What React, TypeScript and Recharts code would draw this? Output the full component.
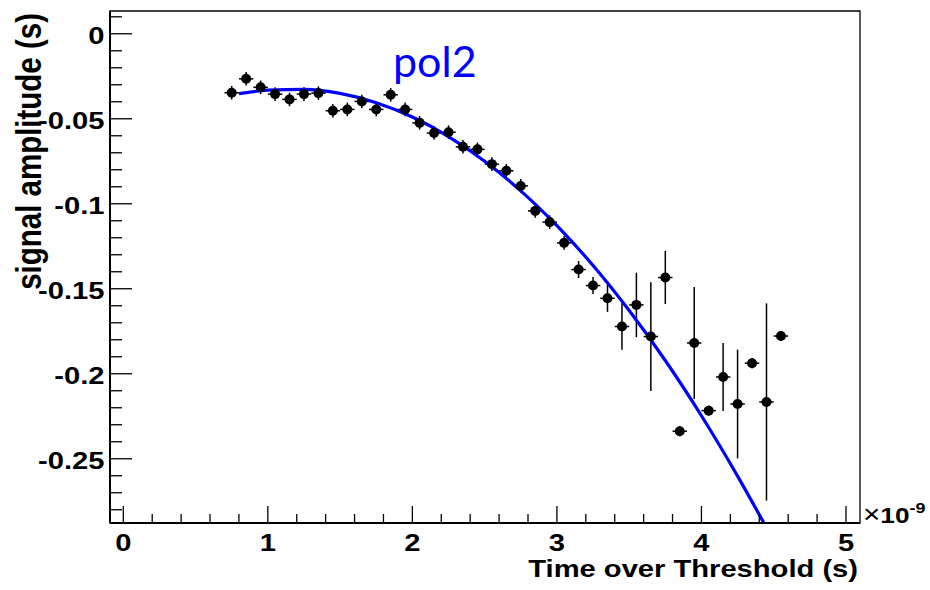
import * as React from 'react'
import { ComposedChart, Scatter, Line, XAxis, YAxis, ErrorBar, ReferenceArea, Label } from 'recharts'

// bin centres (units of 1e-9 s)
const xVals = [
  0.75, 0.85, 0.95, 1.05, 1.15, 1.25, 1.35, 1.45, 1.55, 1.65,
  1.75, 1.85, 1.95, 2.05, 2.15, 2.25, 2.35, 2.45, 2.55, 2.65,
  2.75, 2.85, 2.95, 3.05, 3.15, 3.25, 3.35, 3.45, 3.55, 3.65,
  3.75, 3.85, 3.95, 4.05, 4.15, 4.25, 4.35, 4.45, 4.55,
]

const yVals = [
  -0.0347, -0.0265, -0.0315, -0.0355, -0.0386, -0.0355, -0.0349, -0.0453, -0.0445, -0.0398,
  -0.0445, -0.0359, -0.0445, -0.0524, -0.0584, -0.0579, -0.0665, -0.068, -0.0767, -0.0806,
  -0.0895, -0.1042, -0.1108, -0.123, -0.1387, -0.1481, -0.1556, -0.1722, -0.1595, -0.1781,
  -0.1434, -0.2338, -0.1819, -0.2217, -0.2019, -0.2178, -0.1938, -0.2166, -0.1778,
]

const yErr = [
  0.004, 0.004, 0.004, 0.004, 0.004, 0.004, 0.004, 0.004, 0.004, 0.004,
  0.004, 0.004, 0.004, 0.004, 0.004, 0.004, 0.004, 0.004, 0.004, 0.004,
  0.004, 0.004, 0.004, 0.004, 0.005, 0.005, 0.008, 0.0137, 0.019, 0.032,
  0.0156, 0.003, 0.033, 0.003, 0.02, 0.032, 0.003, 0.058, 0.003,
]

const X_ERR = 0.05

// pol2 fit curve
const fitX = [0.8, 1.0, 1.25, 1.5, 1.75, 2.0, 2.25, 2.5, 2.75, 3.0, 3.25, 3.5, 3.75, 4.0, 4.25, 4.43]
const fitY = [
  -0.0352, -0.0332, -0.0327, -0.0351, -0.0406, -0.049, -0.0605, -0.075, -0.0924, -0.1129,
  -0.1363, -0.1628, -0.1922, -0.2247, -0.2602, -0.2875,
]

const xTicks = [0, 0.2, 0.4, 0.6, 0.8, 1, 1.2, 1.4, 1.6, 1.8, 2, 2.2, 2.4, 2.6, 2.8, 3, 3.2, 3.4, 3.6, 3.8, 4, 4.2, 4.4, 4.6, 4.8, 5]
const yTicks = [
  0.01, 0, -0.01, -0.02, -0.03, -0.04, -0.05, -0.06, -0.07, -0.08, -0.09, -0.1, -0.11, -0.12, -0.13,
  -0.14, -0.15, -0.16, -0.17, -0.18, -0.19, -0.2, -0.21, -0.22, -0.23, -0.24, -0.25, -0.26, -0.27, -0.28,
]

const X_DOMAIN = [-0.092, 5.097]
const Y_DOMAIN = [-0.2878, 0.0134]

const FONT = "'Liberation Sans', Arial, sans-serif"
const SX = 1.19 // the original picture is stretched sideways

const points = xVals.map((x, i) => ({ x, y: yVals[i], ey: yErr[i], ex: X_ERR }))
const fit = fitX.map((x, i) => ({ x, y: fitY[i] }))

const XTick = (props: any) => {
  const { x, y, payload } = props
  const v = payload.value
  const major = Math.abs(v - Math.round(v)) < 1e-6
  return (
    <g>
      <line x1={x} y1={y} x2={x} y2={y - (major ? 17 : 9)} stroke="#000" strokeWidth={1.3} />
      {major && (
        <text
          transform={`translate(${x},${y + 27.7}) scale(${SX},1)`}
          textAnchor="middle"
          fontFamily={FONT}
          fontWeight="bold"
          fontSize={24.5}
          fill="#000"
        >
          {String(v)}
        </text>
      )}
    </g>
  )
}

const YTick = (props: any) => {
  const { x, y, payload } = props
  const v = payload.value
  const major = Math.abs(Math.round(v * 100)) % 5 === 0
  return (
    <g>
      <line x1={x} y1={y} x2={x + (major ? 22 : 12)} y2={y} stroke="#000" strokeWidth={1.3} />
      {major && (
        <text
          transform={`translate(${x - 5.5},${y + 10.4}) scale(${SX},1)`}
          textAnchor="end"
          fontFamily={FONT}
          fontWeight="bold"
          fontSize={24.5}
          fill="#000"
        >
          {String(v)}
        </text>
      )}
    </g>
  )
}

const XTitle = (props: any) => {
  const vb = props.viewBox
  const right = vb.x + vb.width
  return (
    <g>
      <text
        transform={`translate(${right - 2},${vb.y + 54}) scale(${SX},1)`}
        textAnchor="end"
        fontFamily={FONT}
        fontWeight="bold"
        fontSize={24.5}
        fill="#000"
      >
        Time over Threshold (s)
      </text>
      <text transform={`translate(${right + 3},${vb.y}) scale(${SX},1)`} fontFamily={FONT} fill="#000">
        <tspan fontSize={25}>×</tspan>
        <tspan fontSize={22} fontWeight="bold">10</tspan>
        <tspan fontSize={15} fontWeight="bold" dy={-10}>-9</tspan>
      </text>
    </g>
  )
}

const YTitle = (props: any) => {
  const vb = props.viewBox
  return (
    <text
      transform={`translate(40.7,${vb.y + 2}) scale(${SX},1) rotate(-90)`}
      textAnchor="end"
      fontFamily={FONT}
      fontWeight="bold"
      fontSize={29.5}
      fill="#000"
    >
      signal amplitude (s)
    </text>
  )
}

const Dot = (props: any) => <circle cx={props.cx} cy={props.cy} r={5} fill="#000" />

export default function App() {
  return (
    <div style={{ position: 'absolute', left: 0, top: 0, width: 930, height: 590, background: '#fff' }}>
      <ComposedChart width={930} height={590} margin={{ top: 11, right: 70, bottom: 0, left: 0 }}>
        <XAxis
          dataKey="x"
          type="number"
          domain={X_DOMAIN}
          ticks={xTicks}
          interval={0}
          allowDataOverflow
          tickSize={0}
          tickMargin={0}
          tickLine={false}
          tick={<XTick />}
          axisLine={{ stroke: '#000', strokeWidth: 2 }}
          height={67}
        >
          <Label content={<XTitle />} />
        </XAxis>
        <YAxis
          type="number"
          domain={Y_DOMAIN}
          ticks={yTicks}
          interval={0}
          allowDataOverflow
          tickSize={0}
          tickMargin={0}
          tickLine={false}
          tick={<YTick />}
          axisLine={{ stroke: '#000', strokeWidth: 2 }}
          width={110}
        >
          <Label content={<YTitle />} />
        </YAxis>
        <ReferenceArea
          x1={X_DOMAIN[0]}
          x2={X_DOMAIN[1]}
          y1={Y_DOMAIN[0]}
          y2={Y_DOMAIN[1]}
          fill="none"
          stroke="#000"
          strokeWidth={1.3}
          ifOverflow="visible"
        />
        <Scatter data={points} dataKey="y" fill="#000" shape={<Dot />} isAnimationActive={false}>
          <ErrorBar dataKey="ey" direction="y" width={0} stroke="#000" strokeWidth={1.5} isAnimationActive={false} />
          <ErrorBar dataKey="ex" direction="x" width={0} stroke="#000" strokeWidth={1.5} isAnimationActive={false} />
        </Scatter>
        <Line
          data={fit}
          dataKey="y"
          type="monotone"
          stroke="#0000ff"
          strokeWidth={3.2}
          dot={false}
          activeDot={false}
          isAnimationActive={false}
        />
      </ComposedChart>
      <svg width={930} height={590} style={{ position: 'absolute', left: 0, top: 0, pointerEvents: 'none' }}>
        <text x={393} y={77} fontFamily="Lato, 'Open Sans', sans-serif" fontSize={43} fill="#0000ff">
          pol2
        </text>
      </svg>
    </div>
  )
}
